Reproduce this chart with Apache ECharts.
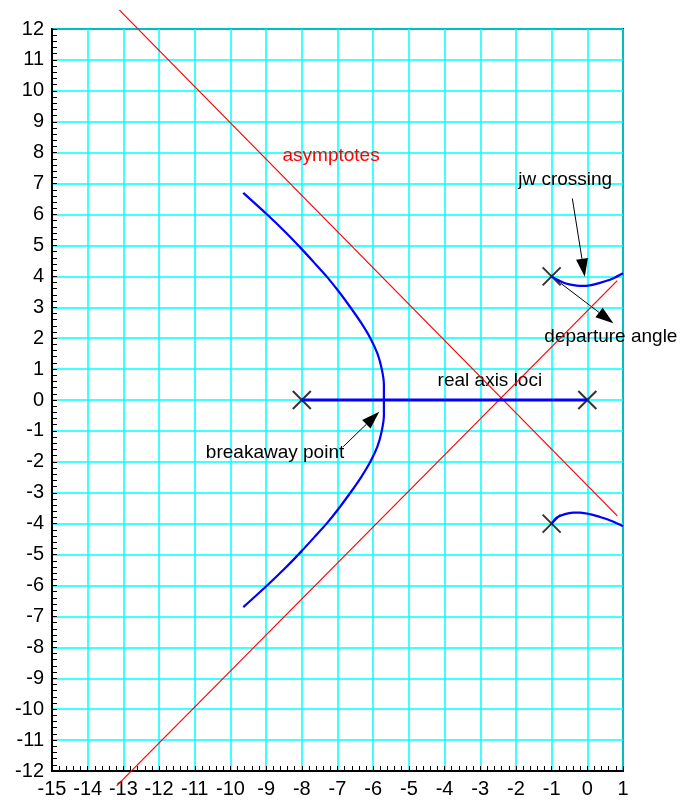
<!DOCTYPE html>
<html>
<head>
<meta charset="utf-8">
<script src="https://cdn.jsdelivr.net/npm/echarts@6/dist/echarts.min.js"></script>
<style>
  html, body { margin: 0; padding: 0; background: #fff; }
  #chart { width: 681px; height: 800px; }
</style>
</head>
<body>
<div id="chart"></div>
<script>
// open-loop poles
var poles = [[-8, 0], [0, 0], [-1, 4], [-1, -4]];
// root locus branches
var realAxisLoci = [[-8, 0], [0, 0]];
var leftBranch = [
  [-9.64, 6.70], [-9.01, 6.04], [-8.45, 5.42], [-8.0, 4.88], [-7.62, 4.40],
  [-7.30, 3.99], [-6.96, 3.5], [-6.64, 3.0], [-6.34, 2.5], [-6.08, 2.0],
  [-5.88, 1.5], [-5.76, 1.0], [-5.70, 0.5], [-5.70, 0], [-5.70, -0.5],
  [-5.76, -1.0], [-5.88, -1.5], [-6.08, -2.0], [-6.34, -2.5], [-6.64, -3.0],
  [-6.96, -3.5], [-7.30, -3.99], [-7.62, -4.40], [-8.0, -4.88], [-8.45, -5.42],
  [-9.01, -6.04], [-9.64, -6.70]
];
var upperBranch = [
  [-1, 4], [-0.85, 3.9], [-0.6, 3.77], [-0.3, 3.7], [-0.1, 3.69],
  [0.2, 3.74], [0.5, 3.84], [0.75, 3.95], [1, 4.1]
];
var lowerBranch = [
  [-1, -4], [-0.85, -3.8], [-0.65, -3.7], [-0.4, -3.64], [-0.2, -3.64],
  [0.1, -3.7], [0.4, -3.8], [0.7, -3.92], [1, -4.08]
];
var asymptoteA = [[-13.11, 12.61], [0.84, -3.75]];
var asymptoteB = [[-13.19, -12.48], [0.84, 3.86]];
// arrows: [fromX, fromY, toX, toY]
var arrows = [
  [-0.42, 6.52, -0.07, 3.99],
  [-1, 4, 0.73, 2.48],
  [-6.84, -1.51, -5.83, -0.38]
];
// annotations: [x, y, text]
var notes = [
  [-7.18, 7.89, 'asymptotes'],
  [-0.62, 7.11, 'jw crossing'],
  [0.66, 2.04, 'departure angle'],
  [-2.73, 0.61, 'real axis loci'],
  [-8.75, -1.71, 'breakaway point']
];
var noteColors = ['#ff0000', '#000', '#000', '#000', '#000'];

var chart = echarts.init(document.getElementById('chart'));

function axisCommon(min, max) {
  return {
    type: 'value',
    min: min,
    max: max,
    interval: 1,
    axisLine: { show: true, onZero: false, lineStyle: { color: '#000', width: 2 } },
    axisTick: { show: true, inside: true, length: 5, lineStyle: { color: '#000' } },
    minorTick: { show: true, splitNumber: 5, length: 5, lineStyle: { color: '#000' } },
    splitLine: { show: true, lineStyle: { color: '#00ffff', width: 1.5 } },
    axisLabel: { color: '#000', fontSize: 20, fontFamily: 'Liberation Sans', margin: 8 }
  };
}

var option = {
  animation: false,
  grid: {
    left: 52, right: 58, top: 29, bottom: 29,
    show: true, borderColor: '#000', borderWidth: 2,
    outerBoundsMode: 'none'
  },
  xAxis: axisCommon(-15, 1),
  yAxis: axisCommon(-12, 12),
  series: [
    {
      type: 'line', data: asymptoteA, clip: false, symbol: 'none',
      itemStyle: { color: '#ff0000' },
      lineStyle: { color: '#ff0000', width: 1.2 }
    },
    {
      type: 'line', data: asymptoteB, clip: false, symbol: 'none',
      itemStyle: { color: '#ff0000' },
      lineStyle: { color: '#ff0000', width: 1.2 }
    },
    {
      type: 'line', data: realAxisLoci, symbol: 'none',
      lineStyle: { color: '#0000ff', width: 3 }
    },
    {
      type: 'line', data: leftBranch, symbol: 'none', smooth: 0.2,
      lineStyle: { color: '#0000ff', width: 2.2 }
    },
    {
      type: 'line', data: upperBranch, symbol: 'none', smooth: 0.3,
      lineStyle: { color: '#0000ff', width: 2.2 }
    },
    {
      type: 'line', data: lowerBranch, symbol: 'none', smooth: 0.3,
      lineStyle: { color: '#0000ff', width: 2.2 }
    },
    {
      type: 'scatter', data: poles,
      symbol: 'path://M0,0L10,10M10,0L0,10', symbolSize: 18,
      itemStyle: { color: 'none', borderColor: '#000', borderWidth: 2 }
    },
    {
      type: 'custom', data: arrows, clip: false,
      encode: { x: [0, 2], y: [1, 3] },
      renderItem: function (params, api) {
        var p1 = api.coord([api.value(0), api.value(1)]);
        var p2 = api.coord([api.value(2), api.value(3)]);
        var dx = p2[0] - p1[0], dy = p2[1] - p1[1];
        var len = Math.sqrt(dx * dx + dy * dy);
        var ux = dx / len, uy = dy / len;
        var hl = 18, hw = 6;
        var bx = p2[0] - ux * hl, by = p2[1] - uy * hl;
        return {
          type: 'group',
          children: [
            { type: 'line', shape: { x1: p1[0], y1: p1[1], x2: bx, y2: by },
              style: { stroke: '#000', lineWidth: 1 } },
            { type: 'polygon',
              shape: { points: [p2, [bx - uy * hw, by + ux * hw], [bx + uy * hw, by - ux * hw]] },
              style: { fill: '#000' } }
          ]
        };
      }
    },
    {
      type: 'custom', data: notes, clip: false,
      encode: { x: 0, y: 1 },
      renderItem: function (params, api) {
        var p = api.coord([api.value(0), api.value(1)]);
        return {
          type: 'text', x: p[0], y: p[1],
          style: {
            text: notes[params.dataIndex][2],
            fill: noteColors[params.dataIndex],
            font: '19px "Liberation Sans"',
            align: 'center', verticalAlign: 'middle'
          }
        };
      }
    }
  ]
};

chart.setOption(option);
</script>
</body>
</html>
